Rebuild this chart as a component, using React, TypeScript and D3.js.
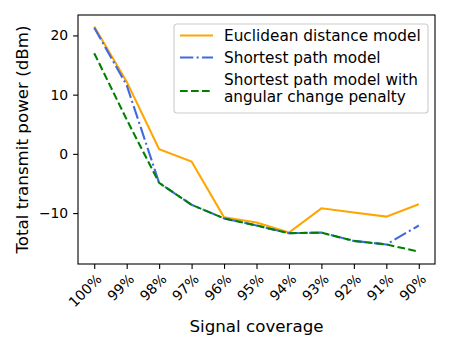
import React, { useEffect, useRef } from 'react';
import * as d3 from 'd3';

const WIDTH = 450;
const HEIGHT = 350;
const MARGIN = { top: 15, right: 15, bottom: 86, left: 78 };

const coverage = ['100%', '99%', '98%', '97%', '96%', '95%', '94%', '93%', '92%', '91%', '90%'];
const euclidean = [21.5, 12.2, 0.8, -1.3, -10.7, -11.6, -13.3, -9.2, -9.9, -10.6, -8.5];
const shortestPath = [21.3, 11.6, -4.9, -8.6, -10.9, -12.1, -13.4, -13.3, -14.7, -15.3, -12.1];
const shortestAngular = [17.0, 5.8, -4.9, -8.6, -10.9, -12.1, -13.4, -13.3, -14.7, -15.3, -16.5];
const yTicks = [-10, 0, 10, 20];

const series = [
  { name: ['Euclidean distance model'], values: euclidean, color: '#FFA500', dash: '' },
  { name: ['Shortest path model'], values: shortestPath, color: '#4169E1', dash: '13.3,3.3,2.1,3.3' },
  { name: ['Shortest path model with', 'angular change penalty'], values: shortestAngular, color: '#008000', dash: '7.7,3.3' },
];

const FONT = 'DejaVu Sans, sans-serif';

export default function App() {
  const ref = useRef<SVGSVGElement>(null);

  useEffect(() => {
    const svg = d3.select(ref.current);
    svg.selectAll('*').remove();
    const w = WIDTH - MARGIN.left - MARGIN.right;
    const h = HEIGHT - MARGIN.top - MARGIN.bottom;

    const x = d3.scaleLinear().domain([-0.5, coverage.length - 0.5]).range([0, w]);
    const y = d3.scaleLinear().domain([-18.6, 23.45]).range([h, 0]);

    const g = svg.append('g').attr('transform', `translate(${MARGIN.left},${MARGIN.top})`);

    // y axis
    const yAxis = g.append('g').call(d3.axisLeft(y).tickValues(yTicks).tickSize(4.9).tickPadding(4.9).tickFormat(d => String(d).replace('-', '\u2212')));
    yAxis.select('.domain').remove();
    yAxis.selectAll('text').attr('font-family', FONT).attr('font-size', 13.9).attr('fill', '#000');
    yAxis.selectAll('line').attr('stroke', '#000').attr('stroke-width', 1.1);

    // x axis
    const xAxis = g.append('g').attr('transform', `translate(0,${h})`)
      .call(d3.axisBottom(x).tickValues(d3.range(coverage.length)).tickSize(4.9).tickFormat(i => coverage[+i]));
    xAxis.select('.domain').remove();
    xAxis.selectAll('line').attr('stroke', '#000').attr('stroke-width', 1.1);
    xAxis.selectAll('text')
      .attr('font-family', FONT).attr('font-size', 13.9).attr('fill', '#000')
      .attr('text-anchor', 'end').attr('dy', null).attr('y', null)
      .attr('transform', 'translate(5,13) rotate(-45)')
      .attr('dominant-baseline', 'middle');

    const line = d3.line<number>().x((_, i) => x(i)).y(d => y(d));
    series.forEach(s => {
      g.append('path').datum(s.values)
        .attr('d', line)
        .attr('fill', 'none')
        .attr('stroke', s.color)
        .attr('stroke-width', 2.08)
        .attr('stroke-dasharray', s.dash || null);
    });

    // frame
    g.append('rect').attr('width', w).attr('height', h).attr('fill', 'none').attr('stroke', '#000').attr('stroke-width', 1.1);

    // axis labels
    svg.append('text').attr('x', MARGIN.left + w / 2).attr('y', 332)
      .attr('text-anchor', 'middle').attr('font-family', FONT).attr('font-size', 16.7).text('Signal coverage');
    svg.append('text').attr('transform', `translate(28,${MARGIN.top + h / 2}) rotate(-90)`)
      .attr('text-anchor', 'middle').attr('font-family', FONT).attr('font-size', 16.7).text('Total transmit power (dBm)');

    // legend
    const lg = svg.append('g').attr('transform', 'translate(174,24)');
    lg.append('rect').attr('width', 254).attr('height', 89).attr('rx', 3)
      .attr('fill', '#fff').attr('fill-opacity', 0.8).attr('stroke', '#ccc').attr('stroke-width', 1.1);
    const handleRows = [11.5, 33.5, 67];
    const textRows = [11.5, 33.5, 64.3];
    series.forEach((s, i) => {
      const hy = handleRows[i];
      lg.append('line').attr('x1', 6).attr('x2', 39).attr('y1', hy).attr('y2', hy)
        .attr('stroke', s.color).attr('stroke-width', 2.08).attr('stroke-dasharray', s.dash || null);
      s.name.forEach((t, k) => {
        lg.append('text').attr('x', 50).attr('y', textRows[i] + (k - (s.name.length - 1) / 2) * 16.7)
          .attr('dominant-baseline', 'central').attr('font-family', FONT).attr('font-size', 15.3).text(t);
      });
    });
  }, []);

  return (
    <svg ref={ref} width={WIDTH} height={HEIGHT} style={{ position: 'absolute', left: 0, top: 0, background: '#fff' }} />
  );
}
